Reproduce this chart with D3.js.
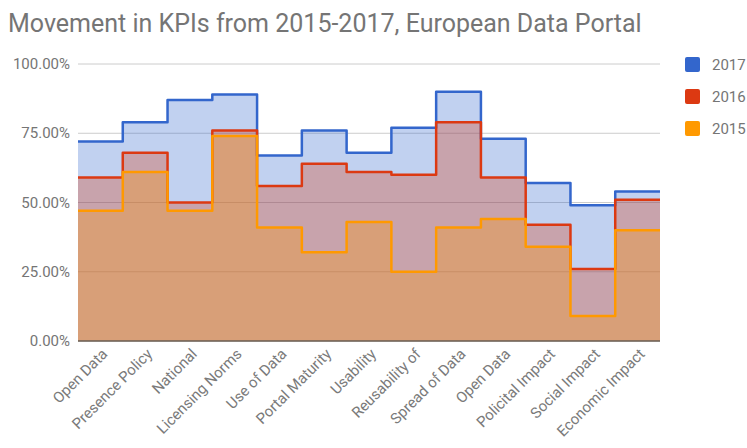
<!DOCTYPE html>
<html>
<head>
<meta charset="utf-8">
<script src="https://cdn.jsdelivr.net/npm/d3@7"></script>
<style>
  body { margin: 0; background: #fff; }
  svg { font-family: Roboto, "Noto Sans", sans-serif; }
</style>
</head>
<body>
<svg id="chart" width="747" height="448"></svg>
<script>
const categories = ["Open Data", "Presence Policy", "National", "Licensing Norms", "Use of Data",
  "Portal Maturity", "Usability", "Reusability of", "Spread of Data", "Open Data",
  "Policital Impact", "Social Impact", "Economic Impact"];
const years = ["2017", "2016", "2015"];
const v2017 = [72, 79, 87, 89, 67, 76, 68, 77, 90, 73, 57, 49, 54];
const v2016 = [59, 68, 50, 76, 56, 64, 61, 60, 79, 59, 42, 26, 51];
const v2015 = [47, 61, 47, 74, 41, 32, 43, 25, 41, 44, 34, 9, 40];
const yTicks = [0, 25, 50, 75, 100];
const colors = ["#3366cc", "#dc3912", "#ff9900"];

const series = [v2017, v2016, v2015];
const svg = d3.select("#chart");
const plotLeft = 78, plotRight = 660, plotTop = 64, plotBottom = 341;

// bands by index, categories repeat ("Open Data" twice)
const x = d3.scaleBand().domain(d3.range(categories.length)).range([plotLeft, plotRight]).padding(0);
const y = d3.scaleLinear().domain([0, 100]).range([plotBottom, plotTop]);

svg.append("text")
  .attr("x", 8).attr("y", 32)
  .attr("font-size", 25).attr("fill", "#757575")
  .text("Movement in KPIs from 2015-2017, European Data Portal");

// gridlines
svg.append("g").selectAll("line").data(yTicks).join("line")
  .attr("x1", plotLeft).attr("x2", plotRight)
  .attr("y1", d => y(d)).attr("y2", d => y(d))
  .attr("stroke", "#cccccc").attr("stroke-width", 1);

svg.append("g").selectAll("text").data(yTicks).join("text")
  .attr("x", 70).attr("y", d => y(d) + 5)
  .attr("text-anchor", "end").attr("font-size", 15).attr("fill", "#757575")
  .text(d => d3.format(".2f")(d) + "%");

function pts(vals) {
  const p = vals.map((v, i) => [x(i), v]);
  p.push([plotRight, vals[vals.length - 1]]);
  return p;
}

const area = d3.area().curve(d3.curveStepAfter)
  .x(d => d[0]).y0(y(0)).y1(d => y(d[1]));
const line = d3.line().curve(d3.curveStepAfter)
  .x(d => d[0]).y(d => y(d[1]));

series.forEach((vals, k) => {
  svg.append("path").attr("d", area(pts(vals)))
    .attr("fill", colors[k]).attr("fill-opacity", 0.3);
});

svg.append("line")
  .attr("x1", plotLeft).attr("x2", plotRight).attr("y1", y(0)).attr("y2", y(0))
  .attr("stroke", "#6b5f55").attr("stroke-width", 1.5);

series.forEach((vals, k) => {
  svg.append("path").attr("d", line(pts(vals)))
    .attr("fill", "none").attr("stroke", colors[k])
    .attr("stroke-width", 2.5).attr("stroke-linejoin", "round");
});

// x labels
svg.append("g").selectAll("text").data(categories).join("text")
  .attr("transform", (d, i) => `translate(${x(i) + x.bandwidth() / 2 + 8},${plotBottom + 14}) rotate(-45)`)
  .attr("text-anchor", "end").attr("font-size", 15).attr("fill", "#7a7a7a")
  .text(d => d);

// legend
const lg = svg.append("g").selectAll("g").data(years).join("g")
  .attr("transform", (d, i) => `translate(685,${57 + i * 32})`);
lg.append("rect").attr("width", 15).attr("height", 15).attr("rx", 2)
  .attr("fill", (d, i) => colors[i]);
lg.append("text").attr("x", 27).attr("y", 13)
  .attr("font-size", 15).attr("fill", "#757575").text(d => d);
</script>
</body>
</html>
